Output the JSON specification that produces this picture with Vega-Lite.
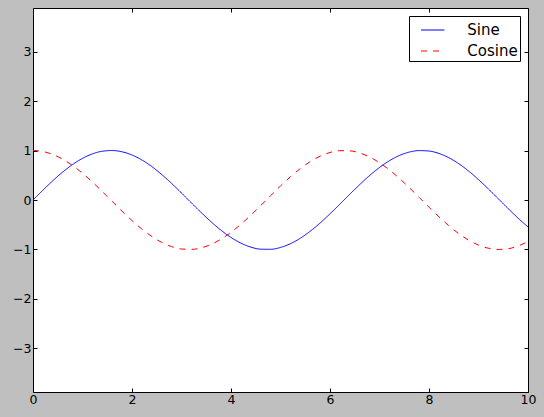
{
  "$schema": "https://vega.github.io/schema/vega-lite/v6.json",
  "width": 495,
  "height": 384,
  "autosize": {"type": "none"},
  "padding": {"left": 33, "top": 8, "right": 16, "bottom": 25},
  "background": "#bfbfbf",
  "view": {"fill": "white", "stroke": "black", "strokeWidth": 1},
  "config": {
    "font": "DejaVu Sans",
    "axis": {
      "domain": false,
      "grid": false,
      "tickSize": -4,
      "tickColor": "black",
      "tickWidth": 1,
      "labelFont": "DejaVu Sans",
      "labelFontSize": 12.5,
      "labelColor": "black",
      "labelPadding": 6,
      "labelFlush": false,
      "labelOverlap": false,
      "title": null
    },
    "legend": {
      "orient": "top-right",
      "offset": 8,
      "strokeColor": "black",
      "fillColor": "white",
      "strokeWidth": 1,
      "cornerRadius": 0,
      "padding": 1.5,
      "symbolType": "stroke",
      "symbolSize": 552,
      "symbolStrokeWidth": 1,
      "symbolOffset": 9.75,
      "labelFont": "DejaVu Sans",
      "labelFontSize": 15,
      "labelColor": "black",
      "labelOffset": 22,
      "labelExpr": "datum.label + '\u00a0'",
      "rowPadding": 0,
      "title": null
    }
  },
  "data": {
    "values": [
      {"x": 0.0, "y": 0.0, "s": "Sine"},
      {"x": 0.2, "y": 0.1987, "s": "Sine"},
      {"x": 0.4, "y": 0.3894, "s": "Sine"},
      {"x": 0.6, "y": 0.5646, "s": "Sine"},
      {"x": 0.8, "y": 0.7174, "s": "Sine"},
      {"x": 1.0, "y": 0.8415, "s": "Sine"},
      {"x": 1.2, "y": 0.932, "s": "Sine"},
      {"x": 1.4, "y": 0.9854, "s": "Sine"},
      {"x": 1.6, "y": 0.9996, "s": "Sine"},
      {"x": 1.8, "y": 0.9738, "s": "Sine"},
      {"x": 2.0, "y": 0.9093, "s": "Sine"},
      {"x": 2.2, "y": 0.8085, "s": "Sine"},
      {"x": 2.4, "y": 0.6755, "s": "Sine"},
      {"x": 2.6, "y": 0.5155, "s": "Sine"},
      {"x": 2.8, "y": 0.335, "s": "Sine"},
      {"x": 3.0, "y": 0.1411, "s": "Sine"},
      {"x": 3.2, "y": -0.0584, "s": "Sine"},
      {"x": 3.4, "y": -0.2555, "s": "Sine"},
      {"x": 3.6, "y": -0.4425, "s": "Sine"},
      {"x": 3.8, "y": -0.6119, "s": "Sine"},
      {"x": 4.0, "y": -0.7568, "s": "Sine"},
      {"x": 4.2, "y": -0.8716, "s": "Sine"},
      {"x": 4.4, "y": -0.9516, "s": "Sine"},
      {"x": 4.6, "y": -0.9937, "s": "Sine"},
      {"x": 4.8, "y": -0.9962, "s": "Sine"},
      {"x": 5.0, "y": -0.9589, "s": "Sine"},
      {"x": 5.2, "y": -0.8835, "s": "Sine"},
      {"x": 5.4, "y": -0.7728, "s": "Sine"},
      {"x": 5.6, "y": -0.6313, "s": "Sine"},
      {"x": 5.8, "y": -0.4646, "s": "Sine"},
      {"x": 6.0, "y": -0.2794, "s": "Sine"},
      {"x": 6.2, "y": -0.0831, "s": "Sine"},
      {"x": 6.4, "y": 0.1165, "s": "Sine"},
      {"x": 6.6, "y": 0.3115, "s": "Sine"},
      {"x": 6.8, "y": 0.4941, "s": "Sine"},
      {"x": 7.0, "y": 0.657, "s": "Sine"},
      {"x": 7.2, "y": 0.7937, "s": "Sine"},
      {"x": 7.4, "y": 0.8987, "s": "Sine"},
      {"x": 7.6, "y": 0.9679, "s": "Sine"},
      {"x": 7.8, "y": 0.9985, "s": "Sine"},
      {"x": 8.0, "y": 0.9894, "s": "Sine"},
      {"x": 8.2, "y": 0.9407, "s": "Sine"},
      {"x": 8.4, "y": 0.8546, "s": "Sine"},
      {"x": 8.6, "y": 0.7344, "s": "Sine"},
      {"x": 8.8, "y": 0.5849, "s": "Sine"},
      {"x": 9.0, "y": 0.4121, "s": "Sine"},
      {"x": 9.2, "y": 0.2229, "s": "Sine"},
      {"x": 9.4, "y": 0.0248, "s": "Sine"},
      {"x": 9.6, "y": -0.1743, "s": "Sine"},
      {"x": 9.8, "y": -0.3665, "s": "Sine"},
      {"x": 10.0, "y": -0.544, "s": "Sine"},
      {"x": 0.0, "y": 1.0, "s": "Cosine"},
      {"x": 0.2, "y": 0.9801, "s": "Cosine"},
      {"x": 0.4, "y": 0.9211, "s": "Cosine"},
      {"x": 0.6, "y": 0.8253, "s": "Cosine"},
      {"x": 0.8, "y": 0.6967, "s": "Cosine"},
      {"x": 1.0, "y": 0.5403, "s": "Cosine"},
      {"x": 1.2, "y": 0.3624, "s": "Cosine"},
      {"x": 1.4, "y": 0.17, "s": "Cosine"},
      {"x": 1.6, "y": -0.0292, "s": "Cosine"},
      {"x": 1.8, "y": -0.2272, "s": "Cosine"},
      {"x": 2.0, "y": -0.4161, "s": "Cosine"},
      {"x": 2.2, "y": -0.5885, "s": "Cosine"},
      {"x": 2.4, "y": -0.7374, "s": "Cosine"},
      {"x": 2.6, "y": -0.8569, "s": "Cosine"},
      {"x": 2.8, "y": -0.9422, "s": "Cosine"},
      {"x": 3.0, "y": -0.99, "s": "Cosine"},
      {"x": 3.2, "y": -0.9983, "s": "Cosine"},
      {"x": 3.4, "y": -0.9668, "s": "Cosine"},
      {"x": 3.6, "y": -0.8968, "s": "Cosine"},
      {"x": 3.8, "y": -0.791, "s": "Cosine"},
      {"x": 4.0, "y": -0.6536, "s": "Cosine"},
      {"x": 4.2, "y": -0.4903, "s": "Cosine"},
      {"x": 4.4, "y": -0.3073, "s": "Cosine"},
      {"x": 4.6, "y": -0.1122, "s": "Cosine"},
      {"x": 4.8, "y": 0.0875, "s": "Cosine"},
      {"x": 5.0, "y": 0.2837, "s": "Cosine"},
      {"x": 5.2, "y": 0.4685, "s": "Cosine"},
      {"x": 5.4, "y": 0.6347, "s": "Cosine"},
      {"x": 5.6, "y": 0.7756, "s": "Cosine"},
      {"x": 5.8, "y": 0.8855, "s": "Cosine"},
      {"x": 6.0, "y": 0.9602, "s": "Cosine"},
      {"x": 6.2, "y": 0.9965, "s": "Cosine"},
      {"x": 6.4, "y": 0.9932, "s": "Cosine"},
      {"x": 6.6, "y": 0.9502, "s": "Cosine"},
      {"x": 6.8, "y": 0.8694, "s": "Cosine"},
      {"x": 7.0, "y": 0.7539, "s": "Cosine"},
      {"x": 7.2, "y": 0.6084, "s": "Cosine"},
      {"x": 7.4, "y": 0.4385, "s": "Cosine"},
      {"x": 7.6, "y": 0.2513, "s": "Cosine"},
      {"x": 7.8, "y": 0.054, "s": "Cosine"},
      {"x": 8.0, "y": -0.1455, "s": "Cosine"},
      {"x": 8.2, "y": -0.3392, "s": "Cosine"},
      {"x": 8.4, "y": -0.5193, "s": "Cosine"},
      {"x": 8.6, "y": -0.6787, "s": "Cosine"},
      {"x": 8.8, "y": -0.8111, "s": "Cosine"},
      {"x": 9.0, "y": -0.9111, "s": "Cosine"},
      {"x": 9.2, "y": -0.9748, "s": "Cosine"},
      {"x": 9.4, "y": -0.9997, "s": "Cosine"},
      {"x": 9.6, "y": -0.9847, "s": "Cosine"},
      {"x": 9.8, "y": -0.9304, "s": "Cosine"},
      {"x": 10.0, "y": -0.8391, "s": "Cosine"}
    ]
  },
  "layer": [
    {
      "mark": {"type": "line", "strokeWidth": 1, "interpolate": "monotone"},
      "encoding": {
        "x": {
          "field": "x", "type": "quantitative",
          "scale": {"domain": [0, 10], "nice": false, "zero": false},
          "axis": {"orient": "bottom", "values": [0, 2, 4, 6, 8, 10], "labelPadding": 5}
        },
        "y": {
          "field": "y", "type": "quantitative",
          "scale": {"domain": [-3.88, 3.88], "nice": false, "zero": false},
          "axis": {"orient": "left", "values": [-3, -2, -1, 0, 1, 2, 3]}
        },
        "color": {
          "field": "s", "type": "nominal",
          "scale": {"domain": ["Sine", "Cosine"], "range": ["#0000ff", "#ff0000"]}
        },
        "strokeDash": {
          "field": "s", "type": "nominal",
          "scale": {"domain": ["Sine", "Cosine"], "range": [[1, 0], [6, 6]]}
        }
      }
    },
    {
      "mark": {"type": "line", "opacity": 0},
      "encoding": {
        "x": {
          "field": "x", "type": "quantitative",
          "axis": {"orient": "top", "values": [0, 2, 4, 6, 8, 10], "labels": false}
        },
        "y": {
          "field": "y", "type": "quantitative",
          "axis": {"orient": "right", "values": [-3, -2, -1, 0, 1, 2, 3], "labels": false}
        },
        "detail": {"field": "s", "type": "nominal"}
      }
    }
  ],
  "resolve": {"axis": {"x": "independent", "y": "independent"}}
}
